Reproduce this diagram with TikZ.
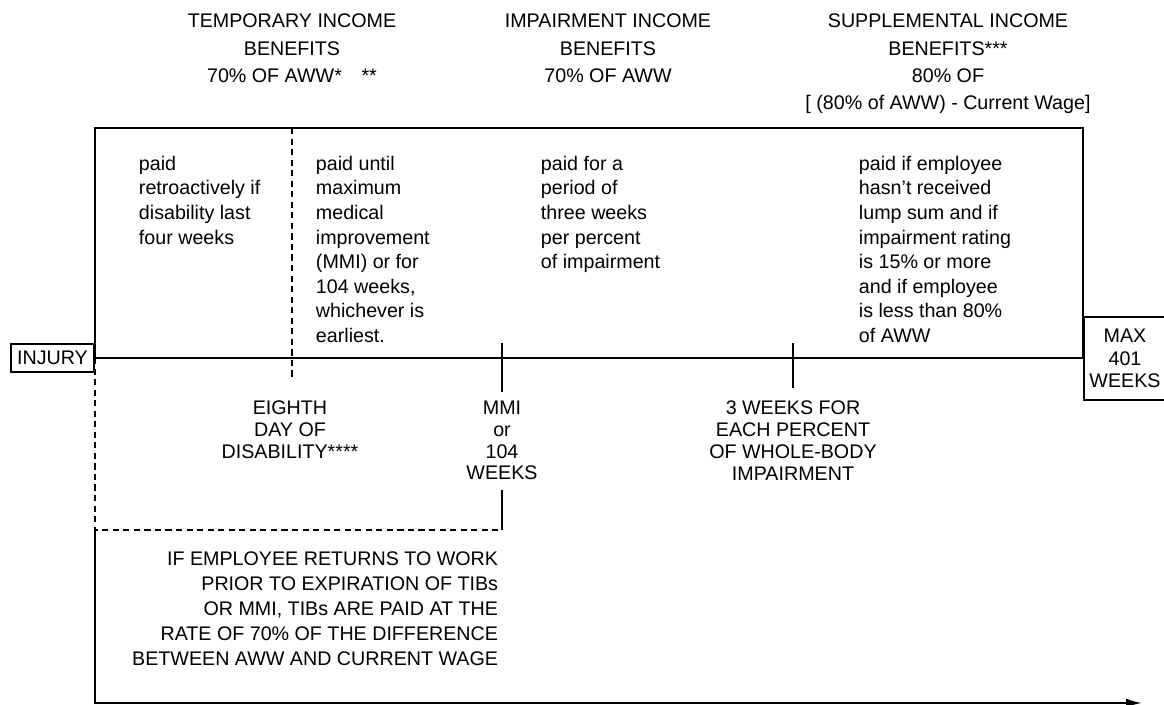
\documentclass[tikz,border=0pt]{standalone}
\usepackage{fontspec}
\setmainfont{Liberation Sans}
\usetikzlibrary{arrows.meta}

\begin{document}
\begin{tikzpicture}[x=0.02cm, y=-0.02cm, line width=1.1pt,
  head/.style={align=center, inner sep=0pt, anchor=north, font=\fontsize{11.2}{15.6}\selectfont},
  body/.style={align=left, inner sep=0pt, anchor=north west, font=\fontsize{11.2}{14}\selectfont},
  ticklbl/.style={align=center, inner sep=0pt, anchor=north, font=\fontsize{11.2}{12.4}\selectfont},
  endbox/.style={draw, line width=0.7pt, inner sep=0pt, align=center, font=\fontsize{11.2}{12.8}\selectfont},
  dsh/.style={line width=1.3pt, dash pattern=on 3.5pt off 2.5pt}]

  \useasboundingbox (0,0) rectangle (1164,705);

  % the three benefit headings
  \node[head] (tib) at (292,13) {TEMPORARY INCOME\\BENEFITS\\70\% OF AWW*\quad **};
  \node[head] (iib) at (608,13) {IMPAIRMENT INCOME\\BENEFITS\\70\% OF AWW};
  \node[head] (sib) at (948,13) {SUPPLEMENTAL INCOME\\BENEFITS***\\80\% OF\\{}[ (80\% of AWW) - Current Wage]};

  % upper box, its lower edge is the time line
  \coordinate (tl) at (95,128);
  \coordinate (br) at (1083,358);
  \coordinate (start) at (95,358);
  \draw (tl) rectangle (br);

  \node[body] (retro) at (138,155) {paid\\retroactively if\\disability last\\four weeks};
  \node[body] (until) at (315,155) {paid until\\maximum\\medical\\improvement\\(MMI) or for\\104 weeks,\\whichever is\\earliest.};
  \node[body] (period) at (540,155) {paid for a\\period of\\three weeks\\per percent\\of impairment};
  \node[body] (ifemp) at (858,155) {paid if employee\\hasn't received\\lump sum and if\\impairment rating\\is 15\% or more\\and if employee\\is less than 80\%\\of AWW};

  % ends of the time line
  \node[endbox, minimum width=1.66cm, minimum height=0.56cm] (injury) at (52.5,358) {INJURY};
  \node[endbox, minimum width=1.64cm, minimum height=1.66cm] (max) at (1125,358.5) {MAX\\401\\WEEKS};

  % marks on the time line
  \coordinate (d8top) at (292,128);
  \coordinate (d8bot) at (292,380);
  \draw[dsh] (d8top) -- (d8bot); %% eighth day
  \coordinate (mmitop) at (502,343);
  \coordinate (mmibot) at (502,392);
  \draw (mmitop) -- (mmibot); %% MMI
  \coordinate (wktop) at (793,343);
  \coordinate (wkbot) at (793,388);
  \draw (wktop) -- (wkbot); %% 3 weeks

  \node[ticklbl] (eighth) at (290,400) {EIGHTH\\DAY OF\\DISABILITY****};
  \node[ticklbl] (mmi) at (502,400) {MMI\\or\\104\\WEEKS};
  \node[ticklbl] (weeks) at (793,400) {3 WEEKS FOR\\EACH PERCENT\\OF WHOLE-BODY\\IMPAIRMENT};

  % return to work
  \coordinate (mmilow) at (502,490);
  \coordinate (corner) at (502,530);
  \coordinate (left) at (95,530);
  \coordinate (bottom) at (95,703);
  \coordinate (tip) at (1142,703);
  \draw[dsh] (start) -- (left) -- (corner);
  \draw (corner) -- (mmilow);
  \draw[-{Latex[length=9pt,width=5pt]}] (left) -- (bottom) -- (tip);

  \node[align=right, inner sep=0pt, anchor=north east, font=\fontsize{11.2}{14.2}\selectfont] (rtw) at (499,551)
    {IF EMPLOYEE RETURNS TO WORK\\PRIOR TO EXPIRATION OF TIBs\\OR MMI, TIBs ARE PAID AT THE\\RATE OF 70\% OF THE DIFFERENCE\\BETWEEN AWW AND CURRENT WAGE};
\end{tikzpicture}
\end{document}
